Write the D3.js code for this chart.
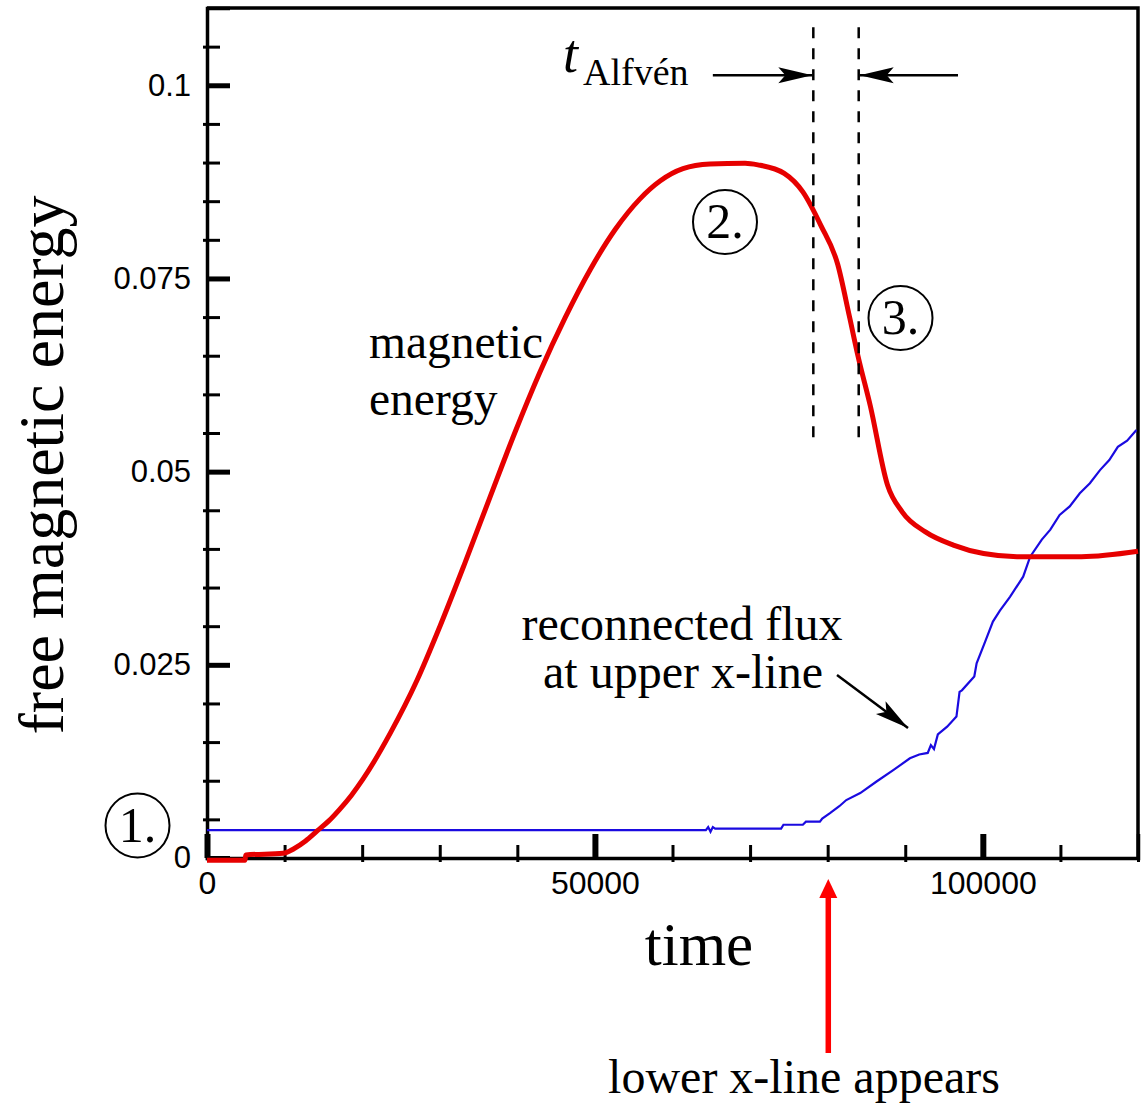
<!DOCTYPE html>
<meta charset="utf-8">
<style>
    body { margin: 0; background: #fff; }
    .serif { font-family: "Liberation Serif", "Times New Roman", serif; fill: #000; }
    .axis text { font-family: "Liberation Sans", Arial, sans-serif; fill: #000; }
    .axis path { stroke: #000; stroke-width: 3.5; }
</style>
<svg width="1148" height="1106"></svg>
<script src="https://d3js.org/d3.v7.min.js"></script>
<script>

    // free magnetic energy (red)
    var energyTime = [0, 4900, 5000, 9800, 11200, 12700, 14200, 15700, 17100, 18600, 20100, 23590,
        27070, 30030, 33250, 36480, 39700, 42920, 46150, 49370, 52590, 55810, 58390, 61350, 64830,
        69350, 71000, 74400, 76800, 79100, 81300, 82800, 83900, 85500, 87700, 89600, 92600, 96200,
        100100, 104400, 112700, 120000];
    var energyValue = [-0.0003, -0.0003, 0.0004, 0.0006, 0.0012, 0.0022, 0.0035, 0.0048, 0.0063,
        0.0081, 0.0102, 0.0161, 0.023, 0.03, 0.0382, 0.0467, 0.0551, 0.0629, 0.0699, 0.0761, 0.0813,
        0.0853, 0.0876, 0.0892, 0.0898, 0.0899, 0.0897, 0.0886, 0.0862, 0.0819, 0.0768, 0.0701, 0.065,
        0.0585, 0.0483, 0.0448, 0.0422, 0.0405, 0.0394, 0.039, 0.039, 0.0397];

    // reconnected flux at upper x-line (blue)
    var fluxTime = [0, 64300, 64600, 64900, 65200, 65500, 74000, 74300, 76800, 77200, 79000, 79300,
        80300, 81500, 82400, 84200, 86300, 88500, 90600, 91800, 92900, 93300, 93700, 94200, 95400,
        96600, 97000, 97300, 98900, 99200, 100300, 101300, 102200, 103500, 105200, 106100, 107600,
        108700, 109900, 111200, 112500, 113800, 115100, 116300, 117400, 118600, 119800];
    var fluxValue = [0.0036, 0.0036, 0.004, 0.0034, 0.004, 0.0038, 0.0038, 0.0043, 0.0043, 0.0047,
        0.0047, 0.0051, 0.0058, 0.0067, 0.0075, 0.0084, 0.0099, 0.0114, 0.0129, 0.0134, 0.0136,
        0.0146, 0.0141, 0.016, 0.017, 0.0183, 0.0215, 0.0217, 0.0235, 0.0252, 0.028, 0.0306, 0.032,
        0.0338, 0.0364, 0.039, 0.0412, 0.0425, 0.0444, 0.0455, 0.0472, 0.0485, 0.0502, 0.0515,
        0.0532, 0.0540, 0.0554];

    var xMajor = [0, 50000, 100000];
    var xMinor = [10000, 20000, 30000, 40000, 60000, 70000, 80000, 90000, 110000, 120000];
    var yMajor = [0, 0.025, 0.05, 0.075, 0.1];
    var yMajorLabels = ["0", "0.025", "0.05", "0.075", "0.1"];
    var yMinor = d3.range(1, 22).map(function (i) { return i * 0.005; })
        .filter(function (v) { return Math.round(v * 1000) % 25 !== 0; });

    // Alfvén time window marks
    var alfvenStart = 78150, alfvenEnd = 84000;

    var svg = d3.select("svg"),
        plotLeft = 207, plotRight = 1138, plotTop = 8, plotBottom = 858;

    var x = d3.scaleLinear().domain([0, 120000]).range([plotLeft, plotRight]);
    var y = d3.scaleLinear().domain([0, 0.11]).range([plotBottom, plotTop]);

    // frame
    svg.append("path")
        .attr("d", "M" + plotLeft + "," + plotTop + "H" + plotRight + "V" + plotBottom)
        .attr("fill", "none").attr("stroke", "#000").attr("stroke-width", 3.5);

    // y axis
    var yAx = svg.append("g").attr("class", "axis")
        .attr("transform", "translate(" + plotLeft + ",0)")
        .call(d3.axisLeft(y).tickValues(yMajor).tickSize(-23).tickPadding(16)
            .tickFormat(function (d, i) { return yMajorLabels[i]; }));
    yAx.selectAll(".tick line").attr("stroke-width", 5);
    yAx.selectAll("text").style("font-size", "31px");

    var yMin = svg.append("g").attr("class", "axis")
        .attr("transform", "translate(" + (plotLeft - 4) + ",0)")
        .call(d3.axisLeft(y).tickValues(yMinor).tickSize(-17).tickFormat(""));
    yMin.select(".domain").remove();
    yMin.selectAll(".tick line").attr("stroke-width", 3);

    // x axis
    var xAx = svg.append("g").attr("class", "axis")
        .attr("transform", "translate(0," + plotBottom + ")")
        .call(d3.axisBottom(x).tickValues(xMajor).tickSize(-24).tickPadding(13)
            .tickFormat(d3.format("d")));
    xAx.selectAll(".tick line").attr("stroke-width", 6);
    xAx.selectAll("text").style("font-size", "32px");

    var xMin = svg.append("g").attr("class", "axis")
        .attr("transform", "translate(0," + (plotBottom + 4) + ")")
        .call(d3.axisBottom(x).tickValues(xMinor).tickSize(-17).tickFormat(""));
    xMin.select(".domain").remove();
    xMin.selectAll(".tick line").attr("stroke-width", 3);

    // curves
    var energy = energyTime.map(function (t, i) { return [t, energyValue[i]]; });
    var flux = fluxTime.map(function (t, i) { return [t, fluxValue[i]]; });

    var line = d3.line()
        .x(function (d) { return x(d[0]); })
        .y(function (d) { return y(d[1]); });

    svg.append("path").datum(flux)
        .attr("d", line.curve(d3.curveLinear))
        .attr("fill", "none").attr("stroke", "#1a0ae0").attr("stroke-width", 2.2);

    svg.append("path").datum(energy)
        .attr("d", line.curve(d3.curveMonotoneX))
        .attr("fill", "none").attr("stroke", "#e60000").attr("stroke-width", 5)
        .attr("stroke-linejoin", "round");

    // dashed Alfvén lines
    [alfvenStart, alfvenEnd].forEach(function (t) {
        svg.append("line")
            .attr("x1", x(t)).attr("x2", x(t))
            .attr("y1", y(0.1075)).attr("y2", y(0.0544))
            .attr("stroke", "#000").attr("stroke-width", 2.5)
            .attr("stroke-dasharray", "11,10");
    });

    var head = "M0,0L-34,-8L-27,0L-34,8Z";
    function arrow(x1, y1, x2, y2) {
        var a = Math.atan2(y2 - y1, x2 - x1) * 180 / Math.PI;
        svg.append("line").attr("x1", x1).attr("y1", y1).attr("x2", x2).attr("y2", y2)
            .attr("stroke", "#000").attr("stroke-width", 2.5);
        svg.append("path").attr("d", head).attr("fill", "#000")
            .attr("transform", "translate(" + x2 + "," + y2 + ") rotate(" + a + ")");
    }
    var ay = y(0.1013);
    arrow(x(65200), ay, x(alfvenStart) - 1, ay);
    arrow(x(96800), ay, x(alfvenEnd) + 1, ay);
    arrow(837, 675, 908, 728);

    // t_Alfvén label
    svg.append("text").attr("class", "serif")
        .attr("x", 563).attr("y", 72)
        .style("font-size", "54px").style("font-style", "italic").text("t");
    svg.append("text").attr("class", "serif")
        .attr("x", 583).attr("y", 85)
        .style("font-size", "38px").text("Alfvén");

    // circled stage numbers
    var stages = [
        {label: "1.", cx: 137.5, cy: 825.5},
        {label: "2.", cx: 725, cy: 222},
        {label: "3.", cx: 900.5, cy: 318}
    ];
    stages.forEach(function (s) {
        svg.append("circle").attr("cx", s.cx).attr("cy", s.cy).attr("r", 32)
            .attr("fill", "none").attr("stroke", "#000").attr("stroke-width", 2);
        svg.append("text").attr("class", "serif")
            .attr("x", s.cx).attr("y", s.cy + 16)
            .attr("text-anchor", "middle")
            .style("font-size", "50px").text(s.label);
    });

    // curve labels
    svg.append("text").attr("class", "serif").attr("x", 369).attr("y", 358)
        .style("font-size", "47.5px").text("magnetic");
    svg.append("text").attr("class", "serif").attr("x", 369).attr("y", 415)
        .style("font-size", "47.5px").text("energy");

    svg.append("text").attr("class", "serif").attr("x", 682).attr("y", 640)
        .attr("text-anchor", "middle").style("font-size", "48px").text("reconnected flux");
    svg.append("text").attr("class", "serif").attr("x", 683).attr("y", 688)
        .attr("text-anchor", "middle").style("font-size", "48px").text("at upper x-line");

    // axis titles
    svg.append("text").attr("class", "serif")
        .attr("x", 699).attr("y", 965)
        .attr("text-anchor", "middle").style("font-size", "61px").text("time");

    svg.append("text").attr("class", "serif")
        .attr("transform", "translate(63,465) rotate(-90)")
        .attr("text-anchor", "middle").style("font-size", "64px")
        .text("free magnetic energy");

    // red arrow: lower x-line appears
    var rx = x(80080);
    svg.append("line").attr("x1", rx).attr("x2", rx).attr("y1", 1053).attr("y2", 894)
        .attr("stroke", "#ff0000").attr("stroke-width", 5.5);
    svg.append("path")
        .attr("d", "M" + rx + ",879L" + (rx - 9) + ",898L" + (rx + 9) + ",898Z")
        .attr("fill", "#ff0000");
    svg.append("text").attr("class", "serif")
        .attr("x", 804).attr("y", 1093)
        .attr("text-anchor", "middle").style("font-size", "48px").text("lower x-line appears");

</script>
